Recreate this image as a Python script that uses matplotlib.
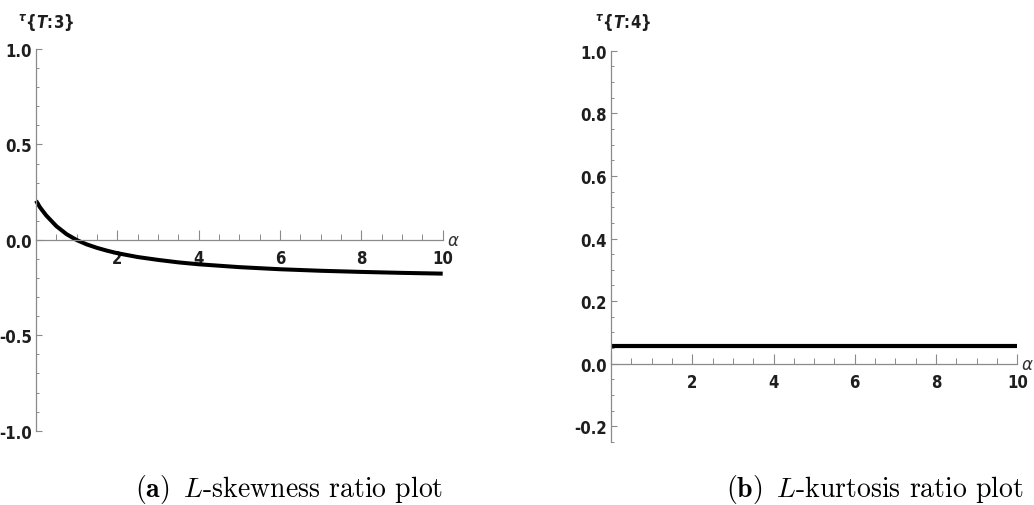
import matplotlib
matplotlib.use("Agg")
import matplotlib.pyplot as plt
from matplotlib.ticker import FixedLocator, MultipleLocator, FuncFormatter

# L-skewness ratio tau_3 as a function of alpha
alpha_a = [0.0, 0.1, 0.25, 0.5, 0.75, 1.0, 1.25, 1.5, 1.75, 2.0, 2.5, 3.0,
           3.5, 4.0, 5.0, 6.0, 7.0, 8.0, 9.0, 10.0]
tau3 = [0.205, 0.170, 0.128, 0.072, 0.030, -0.001, -0.024, -0.042, -0.057,
        -0.070, -0.090, -0.105, -0.118, -0.128, -0.143, -0.154, -0.162,
        -0.168, -0.173, -0.177]

# L-kurtosis ratio tau_4 (constant in alpha)
alpha_b = [0.0, 10.0]
tau4 = [0.0577, 0.0577]

x_major = [2, 4, 6, 8, 10]
y_major_a = [-1.0, -0.5, 0.0, 0.5, 1.0]
y_major_b = [-0.2, 0.0, 0.2, 0.4, 0.6, 0.8, 1.0]

captions = [r"$\mathbf{(a)}\;\;L\text{-skewness ratio plot}$",
            r"$\mathbf{(b)}\;\;L\text{-kurtosis ratio plot}$"]
ylabels = [r"$^{\tau}\{\mathit{T}\!:\!3\}$", r"$^{\tau}\{\mathit{T}\!:\!4\}$"]

TICK_FAMILY = "DejaVu Sans"
AXIS_GRAY = "#8a8a8a"
LABEL_COL = "#1e1e1e"

plt.rcParams["mathtext.fontset"] = "custom"
plt.rcParams["mathtext.rm"] = "DejaVu Sans:weight=bold:stretch=condensed"
plt.rcParams["mathtext.it"] = ("DejaVu Sans:style=italic:weight=bold:"
                               "stretch=condensed")
plt.rcParams["mathtext.bf"] = "DejaVu Sans:weight=bold:stretch=condensed"

W, H = 1034, 506
fig = plt.figure(figsize=(W / 100, H / 100), dpi=100)


def px_rect(x0, x1, ytop, ybot):
    return [x0 / W, 1 - ybot / H, (x1 - x0) / W, (ybot - ytop) / H]


def style_axes(ax, ylim, y_major, y_minor):
    ax.set_xlim(0, 10)
    ax.set_ylim(*ylim)
    for s in ("top", "right"):
        ax.spines[s].set_visible(False)
    ax.spines["left"].set_position(("data", 0))
    ax.spines["bottom"].set_position(("data", 0))
    for s in ("left", "bottom"):
        ax.spines[s].set_color(AXIS_GRAY)
        ax.spines[s].set_linewidth(0.9)
    ax.xaxis.set_major_locator(FixedLocator([0] + x_major))
    ax.xaxis.set_major_formatter(
        FuncFormatter(lambda v, p: "" if v == 0 else f"{v:g}"))
    ax.xaxis.set_minor_locator(MultipleLocator(0.5))
    ax.yaxis.set_major_locator(FixedLocator(y_major))
    ax.yaxis.set_major_formatter(FuncFormatter(lambda v, p: f"{v:.1f}"))
    ax.yaxis.set_minor_locator(MultipleLocator(y_minor))
    ax.tick_params(axis="x", which="major", direction="in", length=7,
                   width=0.8, color=AXIS_GRAY, pad=6.5)
    ax.tick_params(axis="x", which="minor", direction="in", length=4,
                   width=0.7, color=AXIS_GRAY)
    ax.tick_params(axis="y", which="major", direction="in", length=4,
                   width=0.8, color=AXIS_GRAY, pad=3)
    ax.tick_params(axis="y", which="minor", direction="in", length=2.5,
                   width=0.7, color=AXIS_GRAY)
    for lab in ax.get_xticklabels() + ax.get_yticklabels():
        lab.set_fontfamily(TICK_FAMILY)
        lab.set_fontstretch("condensed")
        lab.set_fontweight("bold")
        lab.set_fontsize(12)
        lab.set_color(LABEL_COL)
    ax.patch.set_alpha(0)
    ax.annotate(r"$\alpha$", xy=(10, 0), xytext=(3, 0),
                textcoords="offset points", ha="left", va="center",
                fontsize=12, color="#333333", math_fontfamily="dejavusans",
                annotation_clip=False)


ax1 = fig.add_axes(px_rect(36, 442.7, 50, 431.7))
style_axes(ax1, (-1.0, 1.0), y_major_a, 0.1)
ax1.plot(alpha_a, tau3, color="black", lw=2.9, solid_capstyle="butt",
         solid_joinstyle="round", clip_on=False)

ax2 = fig.add_axes(px_rect(611, 1017.3, 51.7, 443))
style_axes(ax2, (-0.25, 1.0), y_major_b, 0.05)
ax2.plot(alpha_b, tau4, color="black", lw=3.0, solid_capstyle="butt",
         clip_on=False)

# axis titles at the top of each y axis
for xpx, lab in zip((18, 595), ylabels):
    fig.text(xpx / W, 1 - 12 / H, lab, ha="left", va="top", fontsize=12,
             color=LABEL_COL)

# sub-figure captions
for xl, cap in zip((135, 726), captions):
    fig.text(xl / W, 1 - 497.5 / H, cap, ha="left", va="baseline",
             fontsize=20, color="black", math_fontfamily="cm")

fig.savefig("out.png", dpi=100, facecolor="white")
